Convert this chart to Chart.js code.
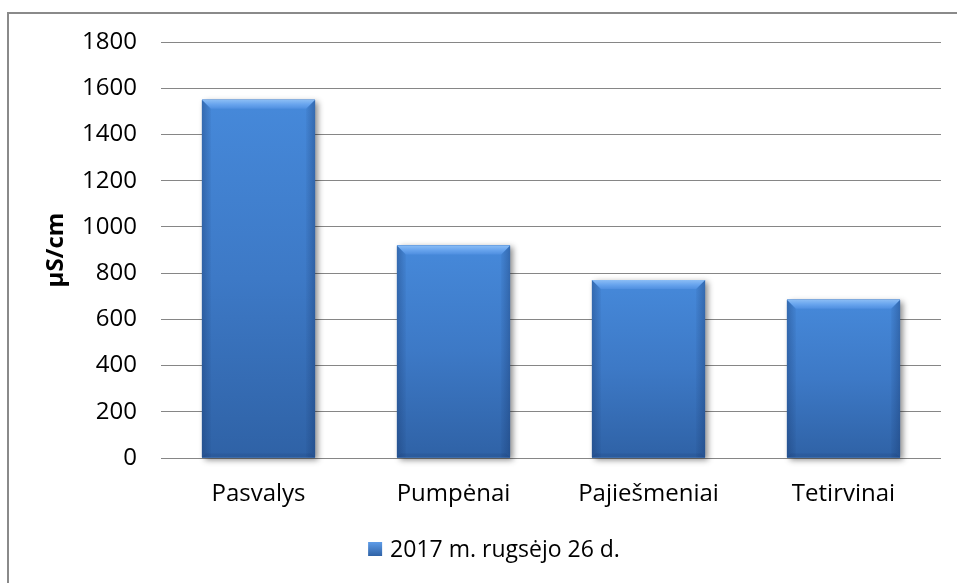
<!DOCTYPE html>
<html><head><meta charset="utf-8">
<script src="https://cdn.jsdelivr.net/npm/chart.js@4/dist/chart.umd.min.js"></script>
<style>html,body{margin:0;padding:0;background:#fff;}#wrap{width:957px;height:583px;}</style>
</head><body><div id="wrap"><canvas id="c" width="957" height="583"></canvas></div>
<script>
const categories = ['Pasvalys', 'Pumpėnai', 'Pajiešmeniai', 'Tetirvinai'];
const seriesName = '2017 m. rugsėjo 26 d.';
const values = [1550, 920, 770, 685];
const yTickLabels = [0, 200, 400, 600, 800, 1000, 1200, 1400, 1600, 1800];
const yTitle = 'µS/cm';

const FONT = '"Open Sans", "Liberation Sans", sans-serif';

const framePlugin = {
  id: 'frame',
  beforeDraw(chart) {
    const ctx = chart.ctx;
    ctx.save();
    ctx.fillStyle = '#fff';
    ctx.fillRect(0, 0, chart.width, chart.height);
    ctx.strokeStyle = '#8a8a8a';
    ctx.lineWidth = 2;
    ctx.beginPath();
    ctx.moveTo(8, chart.height + 5);
    ctx.lineTo(8, 13);
    ctx.lineTo(chart.width + 5, 13);
    ctx.stroke();
    ctx.restore();
  }
};

function barRect(el) {
  const p = el.getProps(['x', 'y', 'base', 'width'], true);
  return { l: p.x - p.width / 2, r: p.x + p.width / 2, t: Math.min(p.y, p.base), b: Math.max(p.y, p.base), w: p.width };
}

const bevelPlugin = {
  id: 'bevel',
  beforeDatasetsDraw(chart) {
    const ctx = chart.ctx;
    const meta = chart.getDatasetMeta(0);
    ctx.save();
    meta.data.forEach(el => {
      const r = barRect(el);
      ctx.shadowColor = 'rgba(0,0,0,0.45)';
      ctx.shadowBlur = 6;
      ctx.shadowOffsetX = 3;
      ctx.shadowOffsetY = 2;
      ctx.fillStyle = '#3a74bd';
      ctx.fillRect(r.l, r.t, r.w, r.b - r.t);
    });
    ctx.restore();
  },
  afterDatasetsDraw(chart) {
    const ctx = chart.ctx;
    const meta = chart.getDatasetMeta(0);
    ctx.save();
    meta.data.forEach(el => {
      const r = barRect(el);
      const bv = 9;
      const g = ctx.createLinearGradient(0, r.t, 0, r.b);
      g.addColorStop(0, '#4689da');
      g.addColorStop(0.5, '#3d79c6');
      g.addColorStop(1, '#2f62a6');
      ctx.fillStyle = g;
      ctx.fillRect(r.l, r.t, r.w, r.b - r.t);
      const gl = ctx.createLinearGradient(r.l, 0, r.l + bv, 0);
      gl.addColorStop(0, 'rgba(20,50,100,0.35)');
      gl.addColorStop(1, 'rgba(20,50,100,0.05)');
      ctx.fillStyle = gl;
      ctx.beginPath();
      ctx.moveTo(r.l, r.t); ctx.lineTo(r.l + bv, r.t + bv); ctx.lineTo(r.l + bv, r.b); ctx.lineTo(r.l, r.b); ctx.closePath();
      ctx.fill();
      const gr = ctx.createLinearGradient(r.r - bv, 0, r.r, 0);
      gr.addColorStop(0, 'rgba(20,50,100,0.05)');
      gr.addColorStop(1, 'rgba(20,50,100,0.35)');
      ctx.fillStyle = gr;
      ctx.beginPath();
      ctx.moveTo(r.r, r.t); ctx.lineTo(r.r - bv, r.t + bv); ctx.lineTo(r.r - bv, r.b); ctx.lineTo(r.r, r.b); ctx.closePath();
      ctx.fill();
      const gt = ctx.createLinearGradient(0, r.t, 0, r.t + bv);
      gt.addColorStop(0, '#8bbdf5');
      gt.addColorStop(0.5, '#69a5ee');
      gt.addColorStop(1, '#4f8fe0');
      ctx.fillStyle = gt;
      ctx.beginPath();
      ctx.moveTo(r.l, r.t); ctx.lineTo(r.r, r.t); ctx.lineTo(r.r - bv, r.t + bv); ctx.lineTo(r.l + bv, r.t + bv); ctx.closePath();
      ctx.fill();
      ctx.fillStyle = 'rgba(20,45,90,0.12)';
      ctx.beginPath();
      ctx.moveTo(r.l, r.b); ctx.lineTo(r.r, r.b); ctx.lineTo(r.r - 4, r.b - 4); ctx.lineTo(r.l + 4, r.b - 4); ctx.closePath();
      ctx.fill();
    });
    ctx.restore();
  }
};

const legendPlugin = {
  id: 'customLegend',
  afterDraw(chart) {
    const ctx = chart.ctx;
    const label = chart.data.datasets[0].label;
    ctx.save();
    ctx.font = '23px ' + FONT;
    ctx.textBaseline = 'middle';
    const tw = ctx.measureText(label).width;
    const box = 14, gap = 8;
    const total = box + gap + tw;
    const cx = 494, cy = 549;
    const x0 = cx - total / 2;
    const g = ctx.createLinearGradient(0, cy - box / 2, 0, cy + box / 2);
    g.addColorStop(0, '#5e9ce8');
    g.addColorStop(1, '#2f62a6');
    ctx.fillStyle = g;
    ctx.fillRect(x0, cy - box / 2, box, box);
    ctx.fillStyle = '#000';
    ctx.fillText(label, x0 + box + gap, cy + 1);
    ctx.restore();
  }
};

new Chart(document.getElementById('c'), {
  type: 'bar',
  data: {
    labels: categories,
    datasets: [{
      label: seriesName,
      data: values,
      backgroundColor: '#3d79c6',
      borderWidth: 0,
      categoryPercentage: 1.0,
      barPercentage: 0.58
    }]
  },
  options: {
    responsive: false,
    animation: false,
    devicePixelRatio: 1,
    layout: { padding: { left: 8, right: 16, top: 42, bottom: 0 } },
    plugins: { legend: { display: false }, tooltip: { enabled: false } },
    scales: {
      x: {
        grid: { display: false, drawTicks: false },
        border: { display: false },
        ticks: { color: '#000', font: { family: FONT, size: 24 }, padding: 22, maxRotation: 0 },
        afterFit(s) { s.height = 125; }
      },
      y: {
        min: 0, max: 1800,
        afterBuildTicks(s) { s.ticks = yTickLabels.map(v => ({ value: v })); },
        grid: { color: '#868686', lineWidth: 1, drawTicks: false },
        border: { display: false },
        ticks: { color: '#000', font: { family: FONT, size: 24 }, padding: 24, callback: v => String(v) },
        title: { display: true, text: yTitle, color: '#000', font: { family: FONT, size: 24, weight: 'bold' }, padding: { top: 34, bottom: 0 } },
        afterFit(s) { s.width = 153; }
      }
    }
  },
  plugins: [framePlugin, bevelPlugin, legendPlugin]
});
</script>
</body></html>
